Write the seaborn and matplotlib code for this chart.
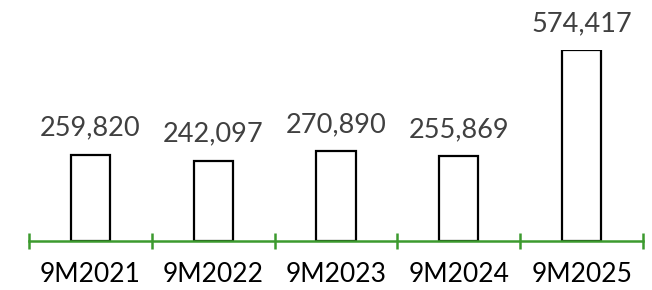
import matplotlib
matplotlib.use("Agg")
from matplotlib import pyplot as plt
import seaborn as sns
import pandas as pd

# Datos
periodos = ["9M2021", "9M2022", "9M2023", "9M2024", "9M2025"]
valores = [259820, 242097, 270890, 255869, 574417]

sns.set_style("white")
plt.rcParams["font.family"] = ["Lato", "DejaVu Sans"]

df = pd.DataFrame({"periodo": periodos, "valor": valores})

fig = plt.figure(figsize=(6.52, 2.9), dpi=100)
ax = fig.add_axes([29 / 652, 49 / 290, 614 / 652, 191 / 290])

sns.barplot(data=df, x="periodo", y="valor", color="white", edgecolor="black",
            linewidth=1.6, width=0.32, saturation=1, ax=ax)

ax.set_xlim(-0.5, 4.5)
ax.set_ylim(0, max(valores))

labels = [f"{v:,}" for v in valores]
ax.bar_label(ax.containers[0], labels=labels, padding=10, fontsize=19.5,
             color="#404040", clip_on=False)

# Eje verde con marcas entre categorias
green = "#3c9a2e"
for s in ["top", "right", "left"]:
    ax.spines[s].set_visible(False)
ax.spines["bottom"].set_color(green)
ax.spines["bottom"].set_linewidth(1.8)
ax.set_yticks([])
ax.set_xticks([i - 0.5 for i in range(len(periodos) + 1)], minor=True)
ax.tick_params(axis="x", which="both", bottom=True)
ax.tick_params(axis="x", which="minor", direction="inout", length=12,
               width=1.8, color=green)
ax.tick_params(axis="x", which="major", length=0, pad=15, labelsize=19,
               labelcolor="black")
ax.set_xlabel("")
ax.set_ylabel("")

fig.savefig("out.png", dpi=100)
